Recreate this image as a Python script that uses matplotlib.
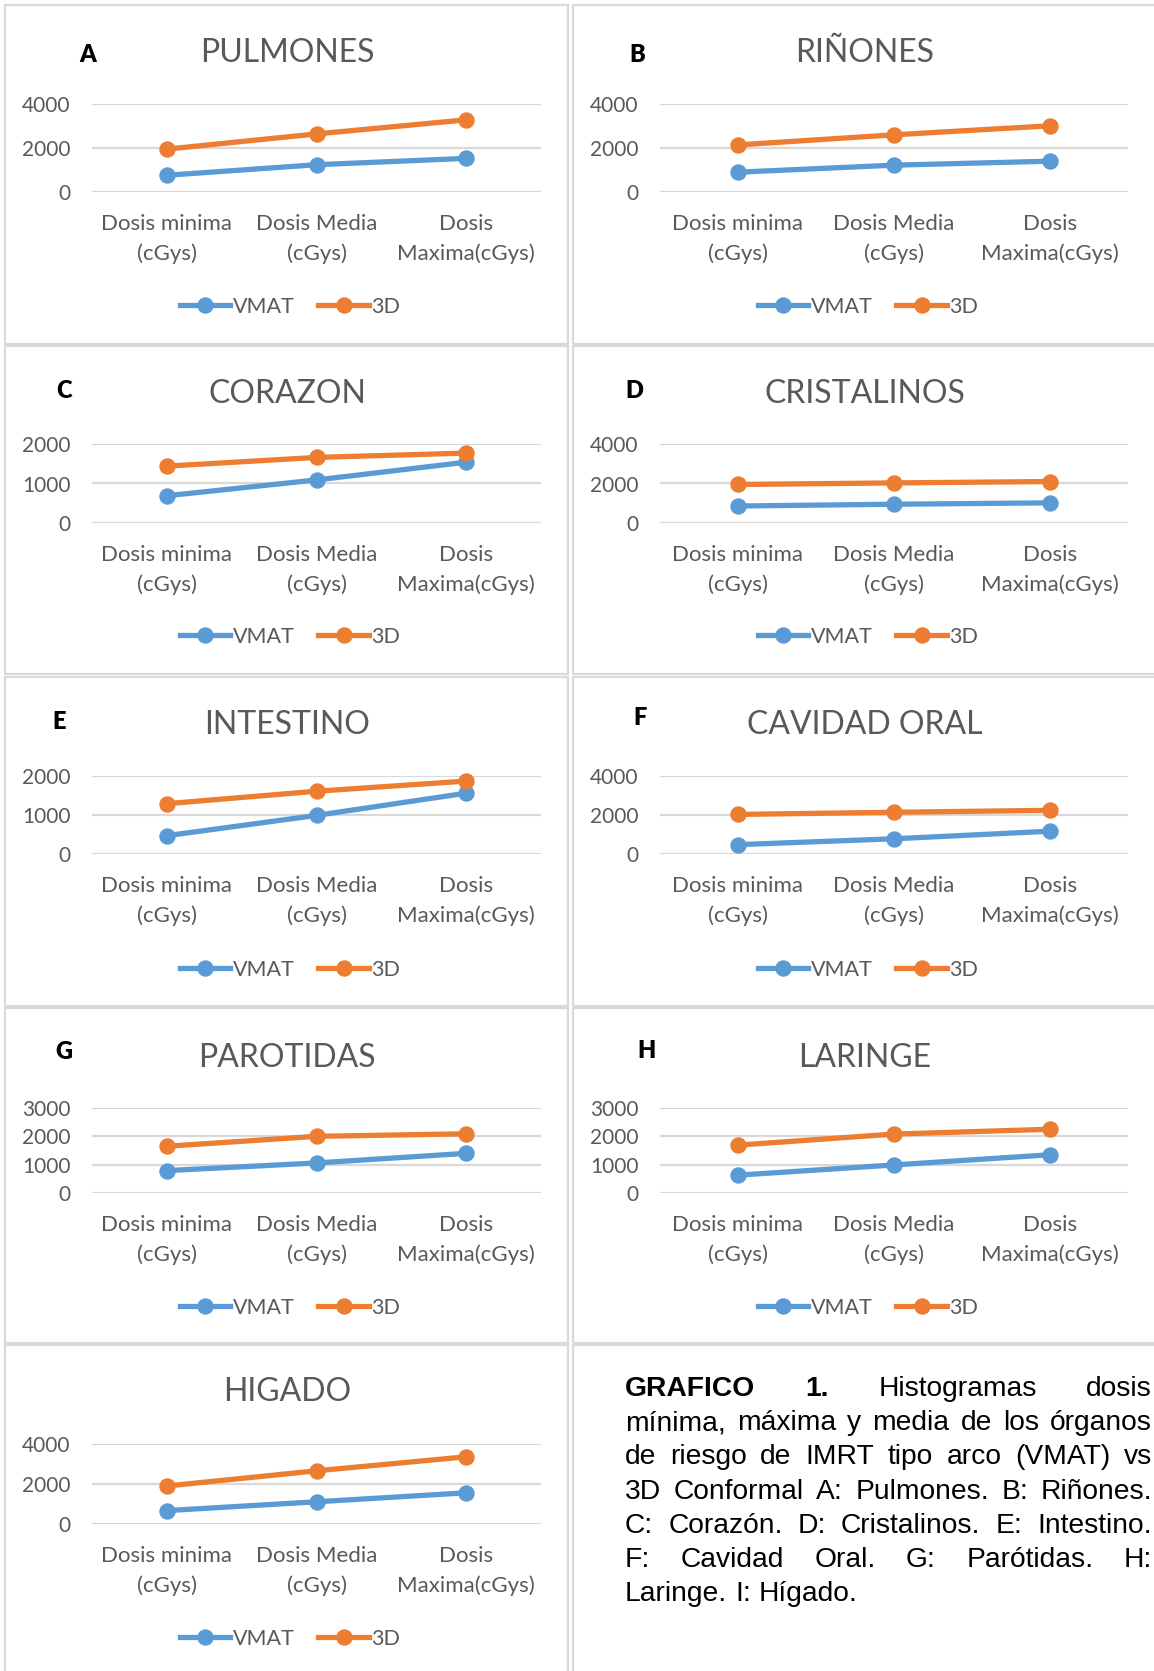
import matplotlib
matplotlib.use("Agg")
import matplotlib.pyplot as plt
from matplotlib.patches import Rectangle
from matplotlib.lines import Line2D

# ---------------- data ----------------
categories = ["Dosis minima\n(cGys)", "Dosis Media\n(cGys)", "Dosis\nMaxima(cGys)"]
series_names = ["VMAT", "3D"]
panel_letters = ["A", "B", "C", "D", "E", "F", "G", "H", ""]
panel_titles = ["PULMONES", "RIÑONES", "CORAZON", "CRISTALINOS", "INTESTINO",
                "CAVIDAD ORAL", "PAROTIDAS", "LARINGE", "HIGADO"]
vmat_pulmones = [760, 1240, 1530]
d3_pulmones = [1950, 2640, 3280]
vmat_rinones = [900, 1220, 1400]
d3_rinones = [2140, 2600, 3010]
vmat_corazon = [690, 1090, 1540]
d3_corazon = [1440, 1660, 1770]
vmat_cristalinos = [860, 950, 1020]
d3_cristalinos = [1950, 2030, 2100]
vmat_intestino = [470, 990, 1560]
d3_intestino = [1290, 1610, 1870]
vmat_cavidad = [480, 780, 1170]
d3_cavidad = [2030, 2140, 2240]
vmat_parotidas = [790, 1060, 1400]
d3_parotidas = [1650, 2000, 2090]
vmat_laringe = [630, 990, 1350]
d3_laringe = [1690, 2080, 2250]
vmat_higado = [670, 1110, 1560]
d3_higado = [1900, 2660, 3360]
y_max = [4000, 4000, 2000, 4000, 2000, 4000, 3000, 3000, 4000]
y_step = [2000, 2000, 1000, 2000, 1000, 2000, 1000, 1000, 2000]

vmat_all = [vmat_pulmones, vmat_rinones, vmat_corazon, vmat_cristalinos, vmat_intestino,
            vmat_cavidad, vmat_parotidas, vmat_laringe, vmat_higado]
d3_all = [d3_pulmones, d3_rinones, d3_corazon, d3_cristalinos, d3_intestino,
          d3_cavidad, d3_parotidas, d3_laringe, d3_higado]

caption_lines = [
    [("GRAFICO", True), ("1.", True), ("Histogramas", False), ("dosis", False)],
    "mínima, máxima y media de los órganos",
    "de riesgo de IMRT tipo arco (VMAT) vs",
    "3D Conformal A: Pulmones. B: Riñones.",
    "C: Corazón. D: Cristalinos. E: Intestino.",
    "F: Cavidad Oral. G: Parótidas. H:",
    "Laringe. I: Hígado.",
]

# ---------------- style ----------------
W, H = 1154, 1671
DPI = 100
BLUE = "#5B9BD5"
ORANGE = "#ED7D31"
GRAY_TXT = "#595959"
GRID = "#D9D9D9"
FONT = "Lato"

fig = plt.figure(figsize=(W / DPI, H / DPI), dpi=DPI)
fig.patch.set_facecolor("white")

def fx(x):
    return x / W

def fy(y):
    return 1 - y / H

col_left = dict(pl=5, pr=568, x0=92, x1=541, cx=290)
col_right = dict(pl=573, pr=1162, x0=660, x1=1128, cx=868)
rows = [
    dict(pt=5, pb=344, yt=104, yb=192, ty=53, ly=307),
    dict(pt=346, pb=674, yt=444, yb=523, ty=394, ly=637),
    dict(pt=677, pb=1006, yt=776, yb=854, ty=725, ly=970),
    dict(pt=1008, pb=1343, yt=1108, yb=1193, ty=1058, ly=1308),
    dict(pt=1345, pb=1680, yt=1444, yb=1524, ty=1392, ly=1639),
]
letter_pos = [(88, 55), (637, 55), (64, 391), (634, 391), (59, 722), (640, 718),
              (64, 1052), (646, 1051), (0, 0)]

def border(x0, x1, y0, y1):
    fig.patches.append(Rectangle((fx(x0), fy(y1)), fx(x1) - fx(x0), fy(y0) - fy(y1),
                                 transform=fig.transFigure, fill=False,
                                 edgecolor=GRID, lw=1.6, zorder=0))

LW, MS = 3.8, 10.8
for i in range(9):
    r = rows[i // 2]
    c = col_left if i % 2 == 0 else col_right
    border(c["pl"], c["pr"], r["pt"], r["pb"])
    ax = fig.add_axes([fx(c["x0"]), fy(r["yb"]), fx(c["x1"]) - fx(c["x0"]),
                       fy(r["yt"]) - fy(r["yb"])])
    x = list(range(len(categories)))
    ax.plot(x, vmat_all[i], color=BLUE, lw=LW, marker="o", ms=MS,
            solid_capstyle="round", zorder=3, clip_on=False)
    ax.plot(x, d3_all[i], color=ORANGE, lw=LW, marker="o", ms=MS,
            solid_capstyle="round", zorder=3, clip_on=False)
    ax.set_xlim(-0.5, len(categories) - 0.5)
    ax.set_ylim(0, y_max[i])
    ax.set_yticks(list(range(0, y_max[i] + 1, y_step[i])))
    ax.set_xticks(x)
    ax.set_xticklabels(categories, fontfamily=FONT, fontsize=16, color=GRAY_TXT,
                       linespacing=1.55)
    for t in ax.get_yticklabels():
        t.set_fontfamily(FONT)
        t.set_fontsize(15)
        t.set_color(GRAY_TXT)
    ax.tick_params(axis="both", length=0)
    ax.tick_params(axis="y", pad=15.5)
    ax.tick_params(axis="x", pad=16)
    for s in ax.spines.values():
        s.set_visible(False)
    ax.grid(axis="y", color=GRID, lw=1.6)
    ax.set_axisbelow(True)
    ax.set_facecolor("none")
    fig.text(fx(c["cx"] - 3), fy(r["ty"]), panel_titles[i], ha="center", va="center",
             fontfamily=FONT, fontsize=23, color=GRAY_TXT)
    if panel_letters[i]:
        lx, ly = letter_pos[i]
        fig.text(fx(lx), fy(ly), panel_letters[i], ha="center", va="center",
                 fontfamily=FONT, fontweight="heavy", fontsize=17, color="black")
    h1 = Line2D([], [], color=BLUE, lw=LW, marker="o", ms=MS)
    h2 = Line2D([], [], color=ORANGE, lw=LW, marker="o", ms=MS)
    fig.legend([h1, h2], series_names, loc="center",
               bbox_to_anchor=(fx(c["cx"]), fy(r["ly"])), ncol=2, frameon=False,
               prop=dict(family=FONT, size=15.5), labelcolor=GRAY_TXT,
               handlelength=2.35, handletextpad=0.12, columnspacing=1.1,
               borderaxespad=0, borderpad=0)

# caption box
border(col_right["pl"], col_right["pr"], rows[4]["pt"], rows[4]["pb"])

# ---------------- caption (justified) ----------------
renderer = fig.canvas.get_renderer()
cap_left, cap_right = 625, 1152
cap_y0, cap_dy = 1389, 34.2
cap_size = 20.3
cap_font = "Liberation Sans"

def text_width(s, bold=False):
    t = fig.text(0, 0, s, fontfamily=cap_font, fontsize=cap_size,
                 fontweight="bold" if bold else "normal")
    w = t.get_window_extent(renderer).width
    t.remove()
    return w

space_w = text_width("a b") - text_width("ab")

for li, line in enumerate(caption_lines):
    if isinstance(line, str):
        words = [(w, False) for w in line.split(" ")]
    else:
        words = line
    y = fy(cap_y0 + li * cap_dy)
    texts = []
    widths = []
    for w, b in words:
        t = fig.text(0, y, w, ha="left", va="center", fontfamily=cap_font,
                     fontsize=cap_size, fontweight="bold" if b else "normal", color="black")
        texts.append(t)
        widths.append(t.get_window_extent(renderer).width)
    last = li == len(caption_lines) - 1
    if last or len(words) == 1:
        gap = space_w
    else:
        gap = (cap_right - cap_left - sum(widths)) / (len(words) - 1)
    xpos = cap_left
    for t, wdt in zip(texts, widths):
        t.set_x(fx(xpos))
        xpos += wdt + gap

fig.savefig("out.png", dpi=DPI, facecolor="white")
